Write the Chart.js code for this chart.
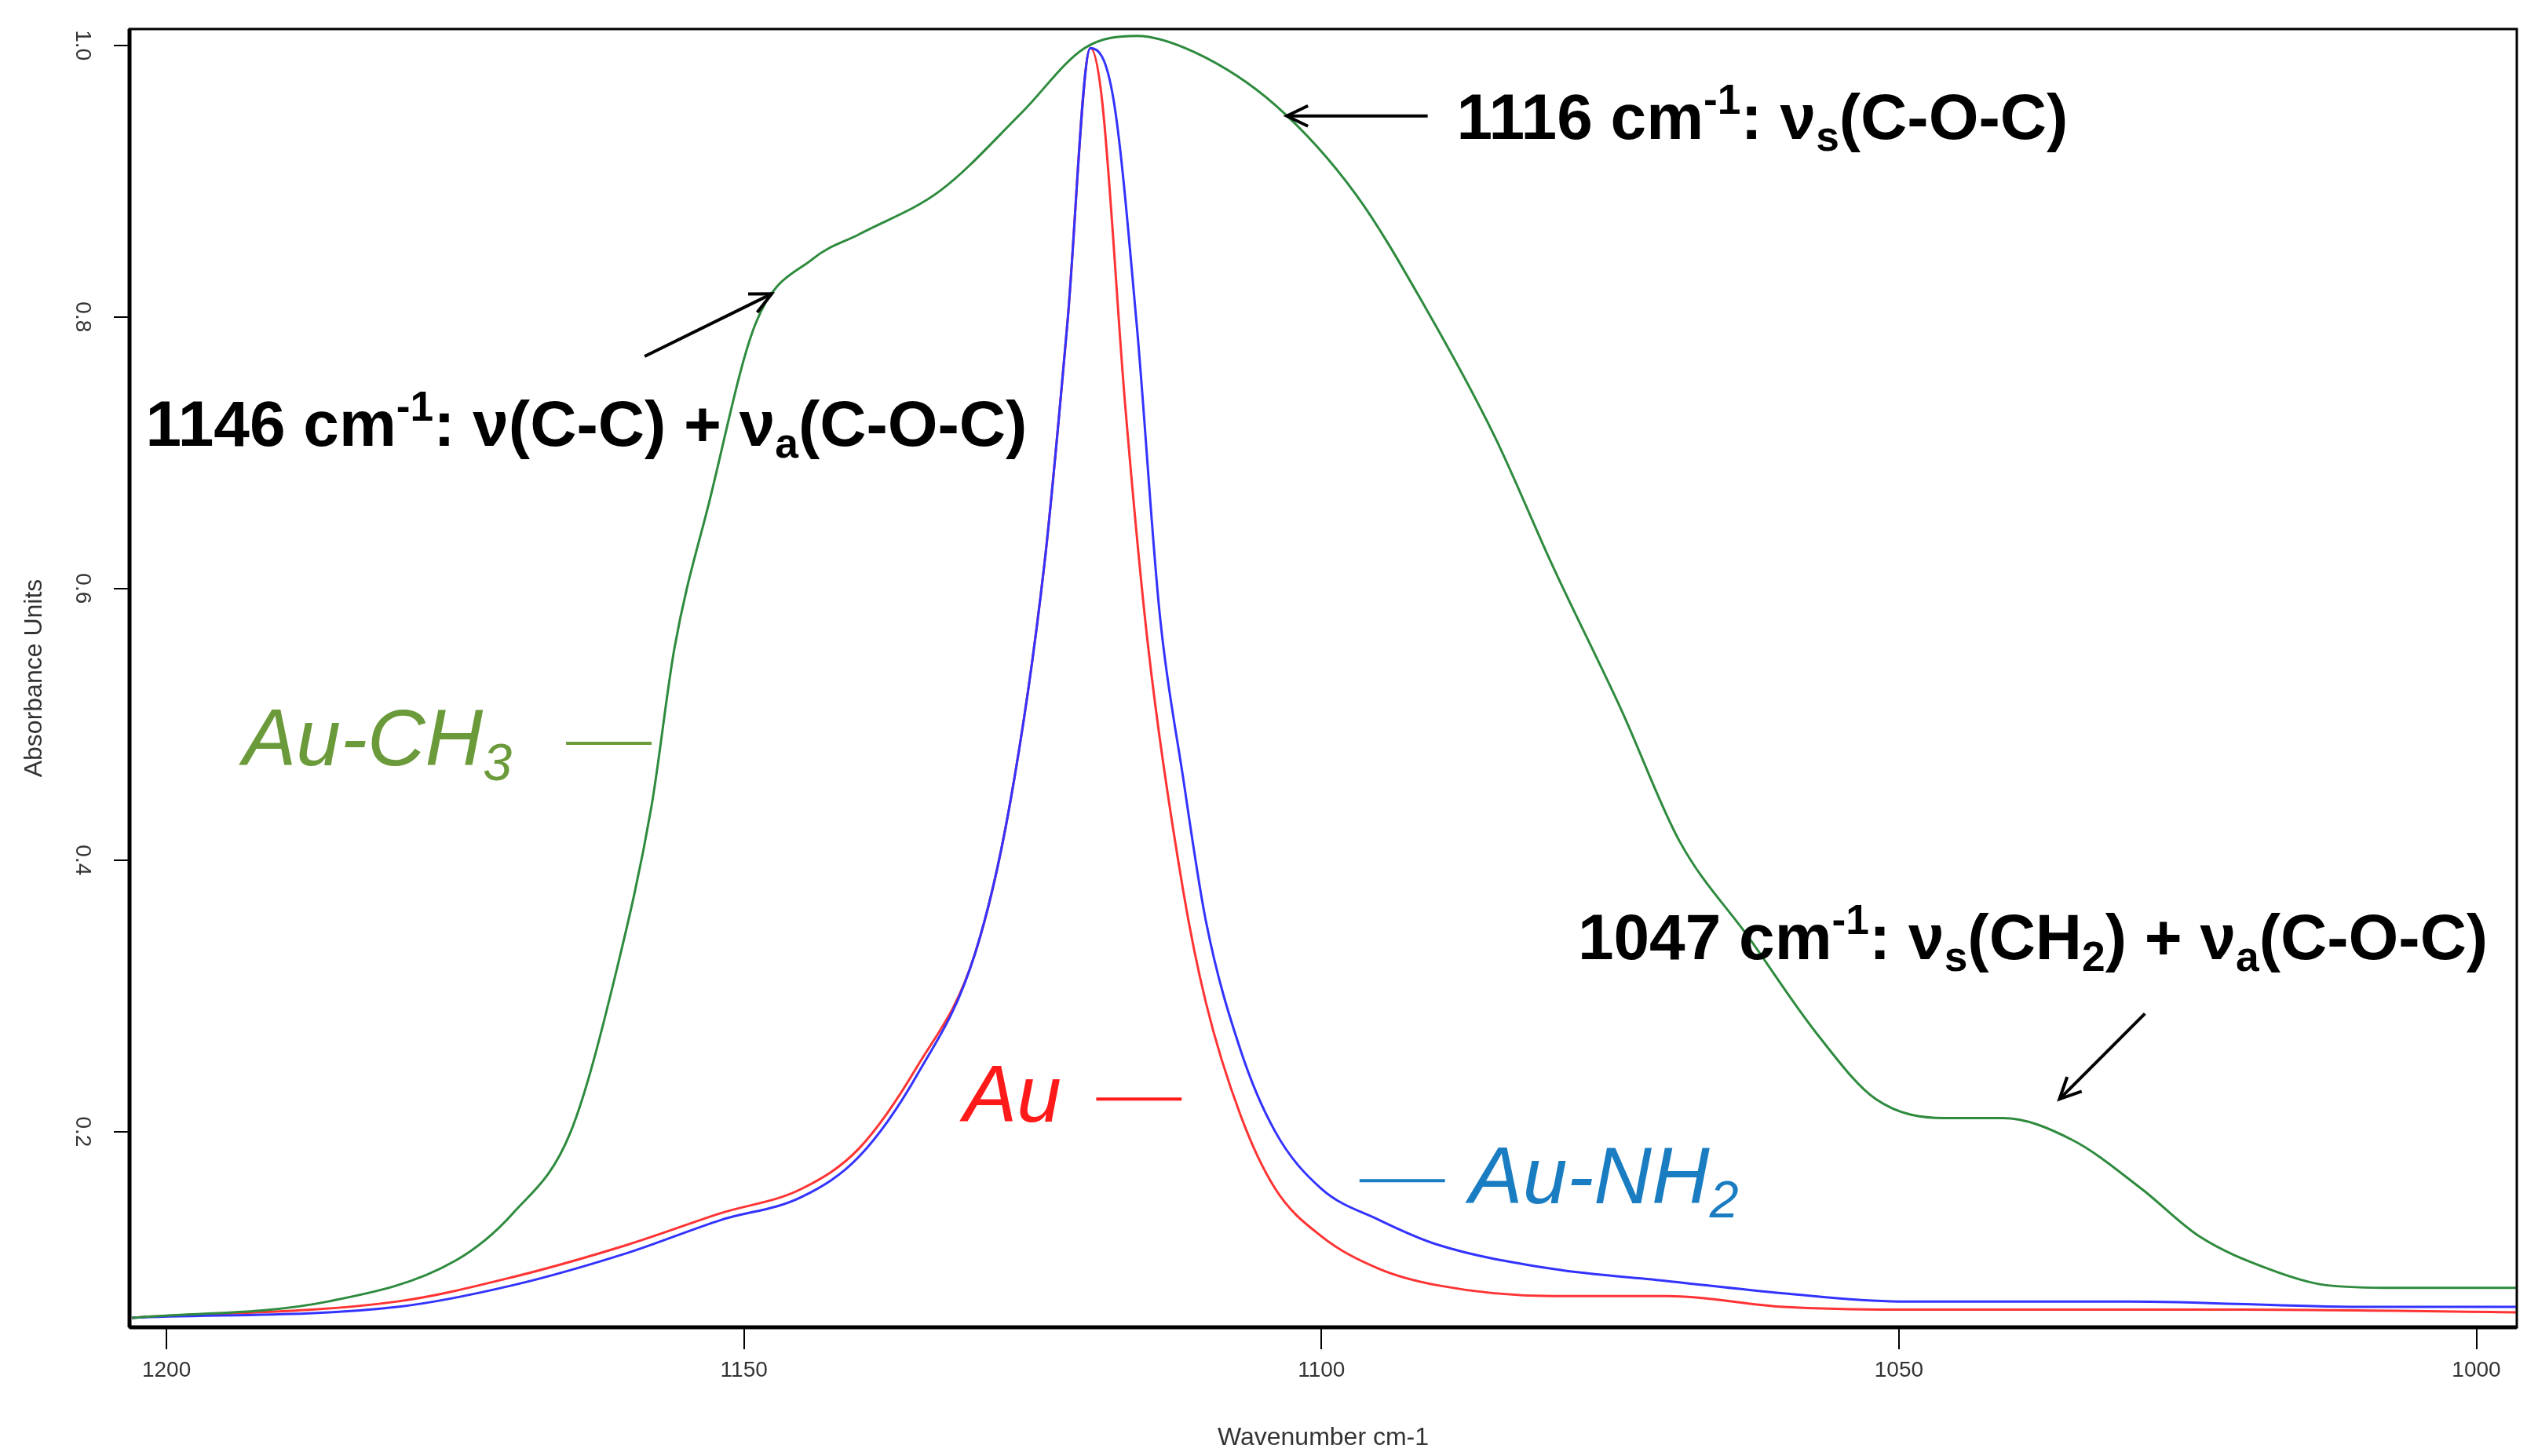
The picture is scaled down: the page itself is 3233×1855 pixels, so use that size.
<!DOCTYPE html>
<html><head><meta charset="utf-8">
<script src="https://cdn.jsdelivr.net/npm/chart.js@4"></script>
<style>html,body{margin:0;padding:0;background:#fff}#c{display:block}</style>
</head><body>
<div style="width:3233px;height:1855px"><canvas id="c"></canvas></div>
<script>
const wnGreen = [1203,1186,1175,1170,1165,1161,1158,1156,1153,1149,1144,1140,1133,1126,1120.5,1116,1111,1104,1097,1091,1085,1080,1074,1069,1063,1057,1052,1046,1041,1035,1029,1024,1018,1013,1007,996.5];
const auCH3 = [0.063,0.075,0.105,0.14,0.2,0.32,0.44,0.557,0.664,0.795,0.843,0.861,0.893,0.95,0.998,1.007,0.995,0.956,0.89,0.807,0.712,0.617,0.51,0.414,0.343,0.271,0.224,0.21,0.21,0.194,0.158,0.123,0.099,0.087,0.085,0.085];
const wnRed = [1203,1180,1170,1160,1152,1145,1140,1135,1130,1127,1124,1122,1120,1119,1117,1115,1112,1110,1107,1104,1100,1095,1090,1080,1070,1060,1050,1020,996.5];
const au = [0.063,0.075,0.093,0.117,0.14,0.158,0.188,0.248,0.331,0.44,0.617,0.795,0.998,0.96,0.736,0.557,0.379,0.295,0.212,0.158,0.123,0.099,0.087,0.079,0.079,0.071,0.069,0.069,0.067];
const wnBlue = [1203,1180,1170,1160,1152,1145,1140,1135,1130,1127,1124,1122,1120,1118,1116,1114,1112,1110,1107,1104,1100,1095,1090,1080,1070,1060,1050,1030,1010,996.5];
const auNH2 = [0.063,0.071,0.087,0.111,0.135,0.152,0.182,0.242,0.331,0.44,0.617,0.795,0.998,0.96,0.795,0.581,0.462,0.355,0.26,0.2,0.158,0.135,0.117,0.099,0.09,0.081,0.075,0.075,0.071,0.071];
const xTicks = [1000,1050,1100,1150,1200];
const yTicks = [0.2,0.4,0.6,0.8,1.0];

const pts = (xs, ys) => xs.map((x,i)=>({x, y: ys[i]}));
const FONT = '"Liberation Sans", Arial, sans-serif';

function richText(ctx, x, y, segs, size, weight, style, color) {
  ctx.save(); ctx.fillStyle = color; ctx.textBaseline = 'middle'; ctx.textAlign='left';
  let cx = x;
  for (const [t, k] of segs) {
    const s = k ? size*0.65 : size;
    ctx.font = `${style} ${weight} ${s}px ${FONT}`;
    const dy = k === 'sup' ? -size*0.3 : k === 'sub' ? size*0.28 : 0;
    ctx.fillText(t, cx, y+dy);
    cx += ctx.measureText(t).width;
  }
  ctx.restore();
}
function arrow(ctx, x1,y1,x2,y2){
  ctx.save(); ctx.strokeStyle='#000'; ctx.lineWidth=4;
  ctx.beginPath(); ctx.moveTo(x1,y1); ctx.lineTo(x2,y2); ctx.stroke();
  const a=Math.atan2(y2-y1,x2-x1), L=30;
  ctx.beginPath();
  ctx.moveTo(x2-L*Math.cos(a-0.45), y2-L*Math.sin(a-0.45)); ctx.lineTo(x2,y2);
  ctx.lineTo(x2-L*Math.cos(a+0.45), y2-L*Math.sin(a+0.45)); ctx.stroke();
  ctx.restore();
}

const deco = {
  id:'deco',
  afterDraw(chart){
    const {ctx, chartArea:a, scales:{x, y}} = chart;
    const X=v=>x.getPixelForValue(v), Y=v=>y.getPixelForValue(v);
    ctx.save();
    ctx.strokeStyle='#000'; ctx.lineWidth=3; ctx.strokeRect(a.left,a.top,a.right-a.left,a.bottom-a.top);
    ctx.lineWidth=5; ctx.beginPath(); ctx.moveTo(a.left,a.bottom); ctx.lineTo(a.right,a.bottom); ctx.moveTo(a.left,a.top); ctx.lineTo(a.left,a.bottom); ctx.stroke();
    ctx.fillStyle='#333'; ctx.font=`28px ${FONT}`; ctx.textAlign='center'; ctx.textBaseline='middle';
    for (const v of yTicks){ ctx.save(); ctx.translate(a.left-60, Y(v)); ctx.rotate(Math.PI/2); ctx.fillText(v.toFixed(1),0,0); ctx.restore(); }
    ctx.restore();
    const B=82;
    richText(ctx, X(1088.3), Y(0.944), [['1116 cm',''],['-1','sup'],[': ',''],['ν',''],['s','sub'],['(C-O-C)','']], B,'bold','normal','#000');
    arrow(ctx, X(1090.8),Y(0.948),X(1103.0),Y(0.948));
    richText(ctx, X(1201.8), Y(0.718), [['1146 cm',''],['-1','sup'],[': ν(C-C) + ν',''],['a','sub'],['(C-O-C)','']], B,'bold','normal','#000');
    arrow(ctx, X(1158.6),Y(0.771),X(1147.6),Y(0.817));
    richText(ctx, X(1077.8), Y(0.340), [['1047 cm',''],['-1','sup'],[': ν',''],['s','sub'],['(CH',''],['2','sub'],[') + ν',''],['a','sub'],['(C-O-C)','']], B,'bold','normal','#000');
    arrow(ctx, X(1028.7),Y(0.287),X(1036.1),Y(0.224));
    const L=102;
    richText(ctx, X(1193.4), Y(0.486), [['Au-CH',''],['3','sub']], L,'normal','italic','#6b9a3a');
    richText(ctx, X(1131.0), Y(0.224), [['Au','']], L,'normal','italic','#ff1a1a');
    richText(ctx, X(1087.2), Y(0.164), [['Au-NH',''],['2','sub']], L,'normal','italic','#1a7dc2');
    const seg=(x1,x2,yv,c)=>{ctx.save();ctx.strokeStyle=c;ctx.lineWidth=4;ctx.beginPath();ctx.moveTo(X(x1),Y(yv));ctx.lineTo(X(x2),Y(yv));ctx.stroke();ctx.restore();};
    seg(1165.4,1158.0,0.486,'#6b9a3a'); seg(1119.5,1112.1,0.224,'#ff1a1a'); seg(1096.7,1089.3,0.164,'#1a7dc2');
  }
};

new Chart(document.getElementById('c'), {
  type:'line',
  data:{datasets:[
    {label:'Au-CH3', data:pts(wnGreen,auCH3), borderColor:'#2e8b3e', borderWidth:3},
    {label:'Au-NH2', data:pts(wnBlue,auNH2), borderColor:'#3333ff', borderWidth:3},
    {label:'Au', data:pts(wnRed,au), borderColor:'#ff3333', borderWidth:3},
  ]},
  options:{
    responsive:true, maintainAspectRatio:false, animation:false,
    elements:{point:{radius:0}, line:{cubicInterpolationMode:'monotone'}},
    layout:{padding:{left:0,right:27,top:37,bottom:0}},
    plugins:{legend:{display:false}, tooltip:{enabled:false}},
    scales:{
      x:{type:'linear', reverse:true, min:996.5, max:1203.2,
        afterBuildTicks:s=>{s.ticks=xTicks.map(v=>({value:v}));},
        afterFit:s=>{s.height=164;},
        grid:{drawOnChartArea:false, color:'#000', tickLength:28, lineWidth:2},
        border:{display:false},
        ticks:{color:'#333', font:{size:28, family:FONT}, maxRotation:0, padding:10, callback:v=>String(v)},
        title:{display:true, text:'Wavenumber cm-1', color:'#333', font:{size:32, family:FONT}, padding:{top:10}}},
      y:{min:0.056, max:1.012,
        afterBuildTicks:s=>{s.ticks=yTicks.map(v=>({value:v}));},
        afterFit:s=>{s.width=165;},
        grid:{drawOnChartArea:false, color:'#000', tickLength:20, lineWidth:2},
        border:{display:false},
        ticks:{display:true, color:'rgba(0,0,0,0)', font:{size:26}, callback:()=>''},
        title:{display:true, text:'Absorbance Units', color:'#333', font:{size:32, family:FONT}, padding:{top:25,bottom:40}}}
    }
  },
  plugins:[deco]
});
</script>
</body></html>
